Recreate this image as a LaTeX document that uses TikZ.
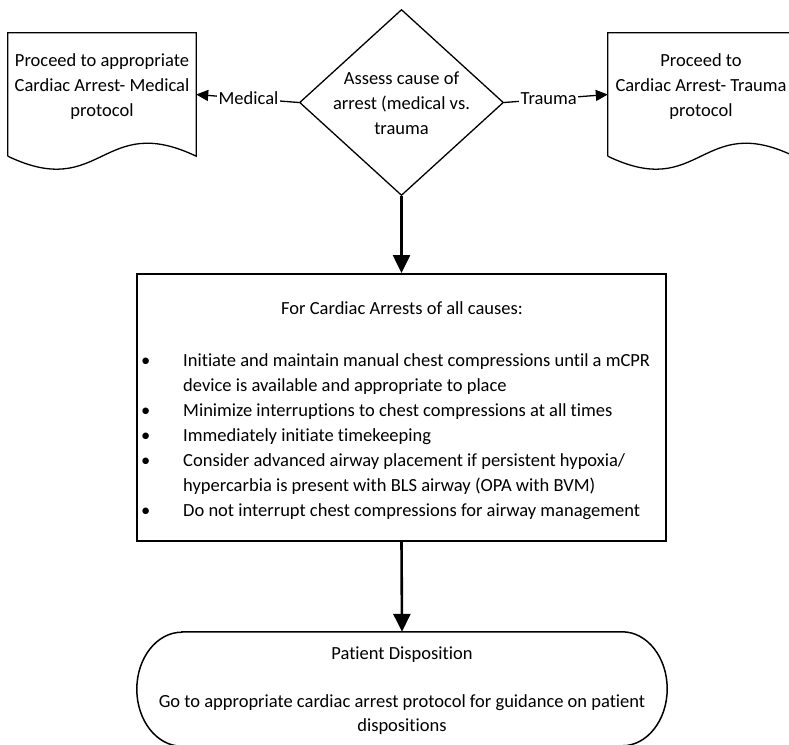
\documentclass[tikz,border=0pt]{standalone}
\usepackage{fontspec}
\setmainfont{Carlito}[Ligatures=NoCommon]
\usetikzlibrary{shapes.geometric,arrows.meta}
\begin{document}
\begin{tikzpicture}[x=1pt,y=-1pt,
  every node/.style={font=\fontsize{18.5}{25}\selectfont, inner sep=0pt},
  shapeline/.style={draw=black, line width=1.3pt},
  flow/.style={line width=2.6pt, -{Triangle[length=18pt,width=17pt]}},
  branch/.style={line width=1.3pt, -{Triangle[length=12pt,width=11pt]}},
  branchlabel/.style={fill=white, inner xsep=1.5pt, inner ysep=1pt},
  listtext/.style={align=left, anchor=west}
]
\path[use as bounding box] (0,0) rectangle (789,744);
\clip (0,0) rectangle (789,744);

% decision: medical or trauma
\node[diamond, shapeline, minimum width=204pt, minimum height=186pt] (cause) at (401.5,102.5) {};
\node[align=center] (causetext) at (401.5,103) {Assess cause of\\arrest (medical vs.\\trauma};

% document shapes for the two protocols
\node[minimum width=188pt, minimum height=123pt] (medical) at (102,94.5) {};
\draw[shapeline] (medical.south west) -- (medical.north west) -- (medical.north east)
  -- (medical.south east) .. controls +(-94,-45) and +(94,45) .. (medical.south west);
\node[align=center] (medicaltext) at (102,87) {Proceed to appropriate\\Cardiac Arrest- Medical\\protocol};

\node[minimum width=186pt, minimum height=123pt] (trauma) at (701,94.5) {};
\draw[shapeline] (trauma.south west) -- (trauma.north west) -- (trauma.north east)
  -- (trauma.south east) .. controls +(-93,-45) and +(93,45) .. (trauma.south west);
\node[align=center] (traumatext) at (701,87) {Proceed to\\Cardiac Arrest- Trauma\\protocol};

% care box
\node[draw, line width=2pt, minimum width=529pt, minimum height=267pt] (care) at (401.5,407.5) {};
\node (careheading) at (402,308) {For Cardiac Arrests of all causes:};
\node[listtext] (carelist) at (141,436.5) {%
\makebox[42pt][l]{\textbullet}Initiate and maintain manual chest compressions until a mCPR\\
\hspace*{42pt}device is available and appropriate to place\\
\makebox[42pt][l]{\textbullet}Minimize interruptions to chest compressions at all times\\
\makebox[42pt][l]{\textbullet}Immediately initiate timekeeping\\
\makebox[42pt][l]{\textbullet}Consider advanced airway placement if persistent hypoxia/\\
\hspace*{42pt}hypercarbia is present with BLS airway (OPA with BVM)\\
\makebox[42pt][l]{\textbullet}Do not interrupt chest compressions for airway management};

% terminator
\node[minimum width=530pt, minimum height=114pt] (disp) at (402,689) {};
\draw[line width=1.5pt] ([xshift=45pt]disp.north west) -- ([xshift=-45pt]disp.north east)
  arc[start angle=90, end angle=-90, x radius=45pt, y radius=57pt]
  -- ([xshift=45pt]disp.south west)
  arc[start angle=-90, end angle=-270, x radius=45pt, y radius=57pt] -- cycle;
\node[align=center, font=\fontsize{18.5}{24}\selectfont] (disptext) at (402,691)
  {Patient Disposition\\[24pt]Go to appropriate cardiac arrest protocol for guidance on patient\\dispositions};

% connectors
\draw[flow] (cause.south) -- (care.north);
\draw[flow] (care.south) -- (disp.north);
\draw[branch] (cause.west) -- node[branchlabel, pos=0.49] {Medical} (medical.east);
\draw[branch] (cause.east) -- node[branchlabel, pos=0.43] {Trauma} (trauma.west);
\end{tikzpicture}
\end{document}
